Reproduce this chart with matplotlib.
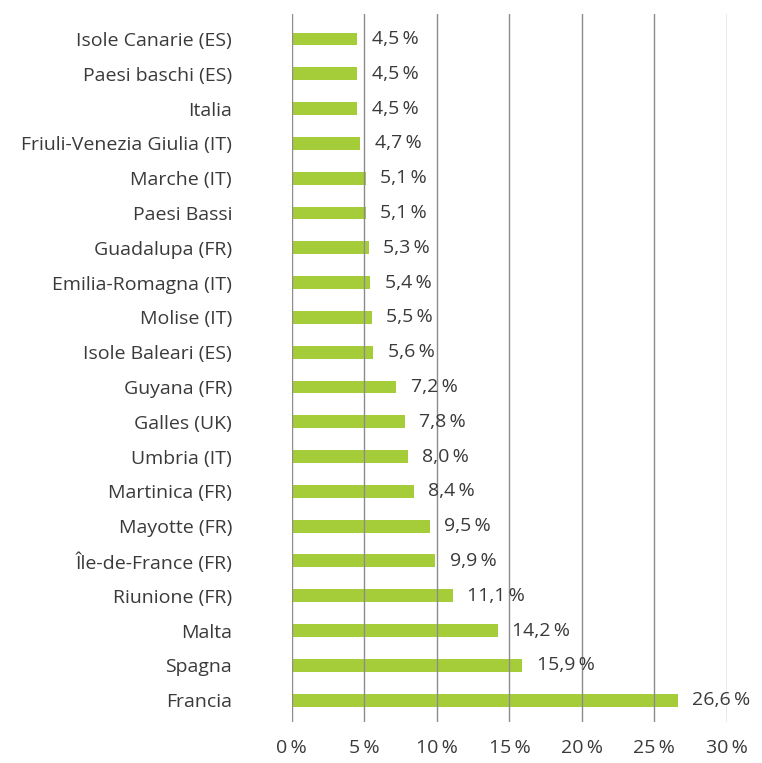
import numpy as np
import matplotlib.pyplot as plt

# dati (dall'alto verso il basso)
regioni = ["Isole Canarie (ES)", "Paesi baschi (ES)", "Italia",
           "Friuli-Venezia Giulia (IT)", "Marche (IT)", "Paesi Bassi",
           "Guadalupa (FR)", "Emilia-Romagna (IT)", "Molise (IT)",
           "Isole Baleari (ES)", "Guyana (FR)", "Galles (UK)", "Umbria (IT)",
           "Martinica (FR)", "Mayotte (FR)", "Île-de-France (FR)",
           "Riunione (FR)", "Malta", "Spagna", "Francia"]
valori = [4.5, 4.5, 4.5, 4.7, 5.1, 5.1, 5.3, 5.4, 5.5, 5.6,
          7.2, 7.8, 8.0, 8.4, 9.5, 9.9, 11.1, 14.2, 15.9, 26.6]
x_ticks = [0, 5, 10, 15, 20, 25, 30]

plt.rcParams['font.family'] = ['Open Sans', 'DejaVu Sans']
testo = "#3a3a3a"
verde = "#a5cd39"
fs = 14

fig = plt.figure(figsize=(7.62, 7.63), dpi=100)
ax = fig.add_axes([0.383, 0.0537, 0.571, 0.928])

# Francia in basso
y = np.arange(len(regioni))[::-1]
ax.barh(y, valori, height=0.37, color=verde, zorder=1)

for yi, v in zip(y, valori):
    lab = f"{v:.1f}".replace(".", ",") + "\u2009%"
    ax.text(v + 1.0, yi, lab, va="center", ha="left",
            fontsize=fs, color=testo)

ax.set_xlim(0, 30)
ax.set_ylim(-0.63, 19.72)
ax.set_yticks(y)
ax.set_yticklabels(regioni, fontsize=fs, color=testo)
ax.set_xticks(x_ticks)
ax.set_xticklabels([f"{t}\u2009%" for t in x_ticks], fontsize=fs, color=testo)
ax.tick_params(axis="both", length=0)
ax.tick_params(axis="x", pad=12)
ax.tick_params(axis="y", pad=43)

for t in x_ticks:
    ax.axvline(t, color="#8c8c8c", lw=1, zorder=2)

for s in ax.spines.values():
    s.set_visible(False)

fig.savefig("out.png", dpi=100)
plt.close(fig)
